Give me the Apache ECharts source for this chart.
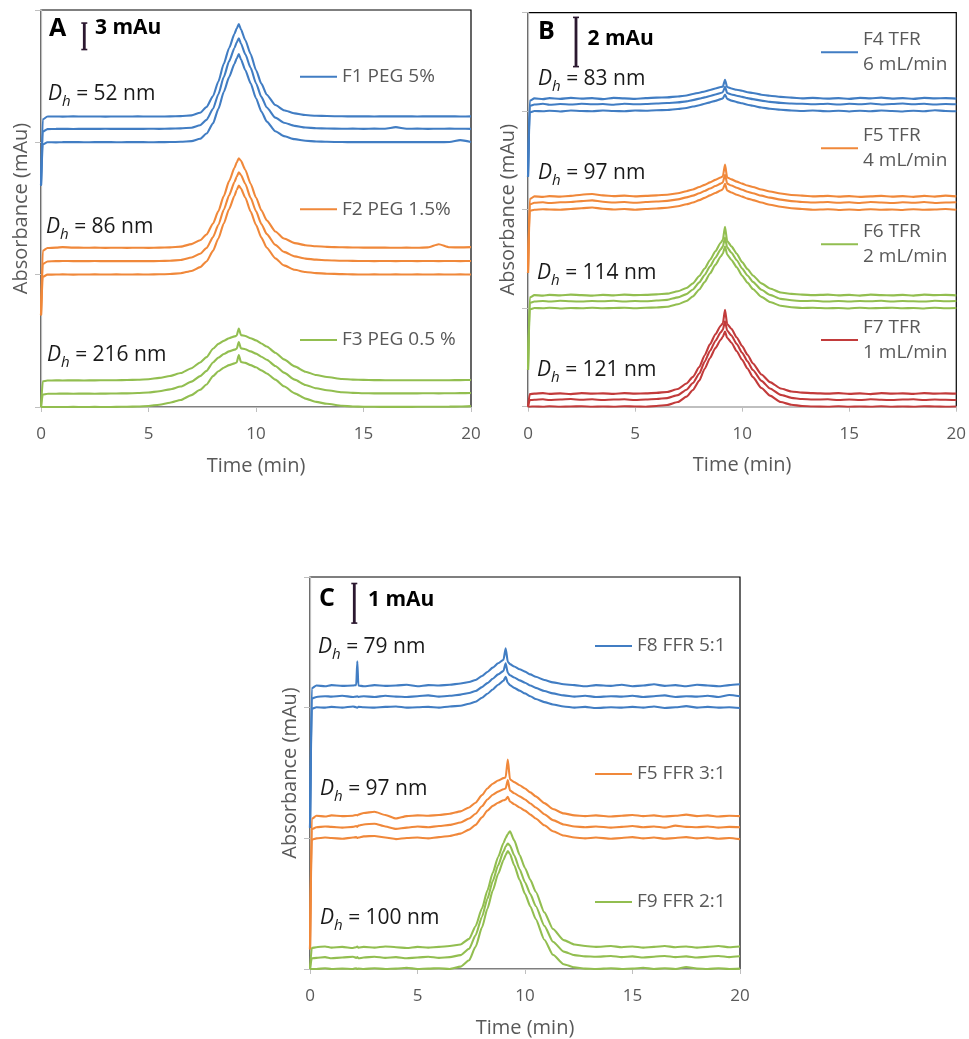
<!DOCTYPE html>
<html><head><meta charset="utf-8">
<script src="https://cdn.jsdelivr.net/npm/echarts@6/dist/echarts.min.js"></script>
<style>html,body{margin:0;padding:0;background:#fff}#c{width:969px;height:1039px}</style>
</head><body><div id="c"></div>
<script>
// ---------- time grids (min) ----------
const timeAB = [0,0.08,0.3,0.7,1,1.5,2,2.5,3,3.5,4,4.5,5,5.5,6,6.5,7,7.4,7.7,8,8.25,8.5,8.75,9,9.1,9.2,9.3,9.5,9.75,10,10.25,10.5,10.9,11.3,11.8,12.3,12.8,13.3,14,14.5,15,15.5,16,16.5,17,17.5,18,18.5,19,19.5,20];
const timeC = [0,0.08,0.3,0.7,1,1.5,2,2.15,2.2,2.25,2.5,3,3.5,4,4.5,5,5.5,6,6.5,7,7.4,7.7,8,8.25,8.5,8.75,9,9.1,9.2,9.3,9.5,9.75,10,10.25,10.5,10.9,11.3,11.8,12.3,12.8,13.3,14,14.5,15,15.5,16,16.5,17,17.5,18,18.5,19,19.5,20];

// ---------- Panel A (mAu above each trace's own baseline; bottom, middle, top replicate) ----------
const F1_base = [30, 31.5, 32.9];
const F1 = [
 [-4.9,-0.25,0.01,0,0.02,0.03,0.01,0.02,0.03,0.01, 0.02,0.03,0.01,0.02,0.03,0.06,0.14,0.4,1.0,2.15, 3.8,5.7,7.4,8.9,9.5,10.0,9.4,8.2,6.7,5.0, 3.5,2.35,1.25,0.7,0.36,0.18,0.1,0.06,0.03,0.02, 0.03,0.02,0.03,0.02,0.03,0.02,0.03,0.02,0.03,0.25,0.04],
 [-6.4,-0.3,0,0.02,0.03,0.01,0.03,0.02,0.04,0.02, 0.03,0.02,0.04,0.03,0.05,0.08,0.16,0.43,1.05,2.3, 3.95,5.9,7.7,9.2,9.8,10.3,9.7,8.5,6.95,5.2, 3.65,2.45,1.3,0.72,0.37,0.18,0.1,0.07,0.04,0.05, 0.03,0.05,0.04,0.22,0.04,0.05,0.03,0.04,0.05,0.04,0.03],
 [-7.8,-0.3,0.02,0.03,0.01,0.04,0.02,0.03,0.01,0.03, 0.02,0.04,0.02,0.03,0.04,0.07,0.16,0.45,1.1,2.35, 4.0,6.0,7.8,9.4,10.0,10.5,9.9,8.7,7.1,5.3, 3.75,2.5,1.33,0.74,0.38,0.19,0.11,0.08,0.05,0.04, 0.05,0.03,0.05,0.04,0.05,0.03,0.05,0.04,0.05,0.03,0.04]
];
const F2_base = [15, 16.5, 18];
const F2 = [
 [-4.6,-0.25,0,0.02,0.03,0.01,0.02,0.03,0.02,0.03, 0.02,0.03,0.02,0.04,0.07,0.16,0.42,0.85,1.5,2.7, 4.1,5.8,7.45,8.95,9.6,10.1,9.75,8.75,7.15,5.65, 4.2,3.05,1.85,1.05,0.55,0.3,0.18,0.11,0.06,0.03, 0.02,0.03,0.02,0.03,0.02,0.03,0.02,0.03,0.02,0.03,0.02],
 [-6.1,-0.3,0,0.03,0.05,0.04,0.03,0.05,0.03,0.04, 0.03,0.04,0.03,0.05,0.08,0.17,0.44,0.87,1.52,2.75, 4.15,5.85,7.5,9.0,9.6,10.1,9.8,8.8,7.2,5.7, 4.25,3.1,1.88,1.08,0.57,0.32,0.2,0.13,0.08,0.06, 0.05,0.04,0.05,0.04,0.05,0.04,0.05,0.04,0.05,0.04,0.05],
 [-7.6,-0.3,0.02,0.06,0.12,0.07,0.05,0.06,0.04,0.05, 0.04,0.05,0.04,0.06,0.09,0.18,0.46,0.9,1.56,2.8, 4.2,5.9,7.6,9.1,9.7,10.2,9.9,8.9,7.3,5.75, 4.3,3.15,1.9,1.1,0.58,0.34,0.22,0.15,0.1,0.08, 0.07,0.06,0.06,0.05,0.06,0.05,0.09,0.45,0.1,0.09,0.12]
];
const F3_base = [0, 1.5, 3];
const F3 = [
 [0,0,0,0,0,0.01,0,0.01,0,0.01, 0.03,0.06,0.12,0.26,0.48,0.8,1.35,1.95,2.55,3.5, 4.05,4.45,4.75,4.95,5.05,5.9,5.1,5.0,4.75,4.5, 4.15,3.8,3.1,2.35,1.55,0.95,0.58,0.36,0.14,0.06, 0.03,0.02,0.01,0.02,0.01,0.02,0.03,0.02,0.04,0.05,0.1],
 [-1.5,-0.1,0,0.01,0.02,0.01,0.02,0.01,0.02,0.03, 0.05,0.08,0.14,0.28,0.5,0.82,1.38,2.0,2.6,3.55, 4.1,4.5,4.8,5.0,5.1,5.85,5.15,5.05,4.8,4.55, 4.2,3.85,3.15,2.4,1.6,1.0,0.62,0.4,0.18,0.1, 0.06,0.05,0.04,0.05,0.04,0.05,0.06,0.05,0.06,0.07,0.08],
 [-3,-0.1,0,0.02,0.01,0.02,0.01,0.02,0.03,0.04, 0.06,0.09,0.15,0.3,0.52,0.85,1.4,2.05,2.65,3.6, 4.15,4.5,4.8,5.0,5.1,5.9,5.15,5.05,4.8,4.55, 4.2,3.85,3.15,2.4,1.6,1.0,0.62,0.4,0.18,0.1, 0.07,0.05,0.04,0.04,0.03,0.04,0.03,0.04,0.04,0.05,0.06]
];

// ---------- Panel B ----------
const F4_base = [12, 12.27, 12.5];
const F4 = [
 [-2.66,-0.05,0.01,0,0.02,-0.01,0.03,0.01,0,0.03, 0.01,0,0.03,0.02,0.04,0.05,0.09,0.13,0.19,0.24, 0.3,0.36,0.42,0.49,0.52,0.68,0.5,0.43,0.37,0.32, 0.26,0.22,0.15,0.1,0.06,0.03,0.01,0.03,0,0.02, -0.01,0.02,0,0.03,0.01,-0.01,0.02,0,0.04,0.01,0],
 [-2.93,-0.06,0,0.03,-0.01,0.02,0,0.03,0.01,0.02, -0.01,0.03,0.01,0.02,0.04,0.06,0.09,0.13,0.18,0.24, 0.29,0.35,0.41,0.47,0.5,0.72,0.47,0.41,0.36,0.31, 0.26,0.22,0.16,0.11,0.07,0.04,0.03,0.01,0.03,0, 0.03,0.01,0.04,0,0.02,0.04,0.01,0.03,0,0.02,0.01],
 [-3.16,-0.08,0.02,-0.01,0.03,0,0.04,0.01,0.03,-0.01, 0.04,0.02,0,0.03,0.05,0.06,0.1,0.14,0.2,0.25, 0.3,0.36,0.42,0.48,0.5,0.78,0.48,0.42,0.37,0.33, 0.27,0.24,0.17,0.13,0.08,0.05,0.02,0.04,0.01,0.03, 0,0.04,0.02,0.05,0.01,0.03,0,0.04,0.02,0.03,0.01]
];
const F5_base = [8, 8.27, 8.51];
const F5 = [
 [-2.57,-0.05,0,0.02,0.01,0,0.03,0.06,0.09,0.04, 0.01,0.03,0,0.03,0.05,0.08,0.14,0.22,0.29,0.39, 0.48,0.58,0.68,0.78,0.83,1.05,0.78,0.7,0.61,0.53, 0.45,0.39,0.29,0.2,0.12,0.06,0.03,0,0.02,-0.01, 0.01,-0.01,0.02,0,0.01,-0.01,0.02,0,0.01,0.03,0],
 [-2.84,-0.06,0.01,0.03,0,0.03,0.04,0.08,0.11,0.05, 0.02,0.04,0.01,0.04,0.06,0.09,0.15,0.23,0.3,0.4, 0.49,0.59,0.69,0.79,0.84,1.15,0.79,0.71,0.62,0.54, 0.46,0.4,0.3,0.22,0.14,0.08,0.04,0.02,0.04,0.01, 0.03,0,0.04,0.02,0,0.03,0.01,0.04,0,0.02,0.03],
 [-3.08,-0.08,0.03,0.01,0.04,0.02,0.05,0.1,0.13,0.07, 0.04,0.06,0.03,0.05,0.07,0.1,0.16,0.24,0.31,0.41, 0.5,0.6,0.7,0.8,0.85,1.32,0.8,0.72,0.63,0.55, 0.47,0.41,0.31,0.23,0.15,0.09,0.06,0.03,0.05,0.02, 0.04,0.01,0.03,0.05,0.02,0.04,0.01,0.05,0.02,0.06,0.03]
];
const F6_base = [4, 4.27, 4.51];
const F6 = [
 [-2.51,-0.05,0.01,0,0.02,-0.01,0.01,0,0.02,0, 0.01,0.02,0,0.02,0.03,0.06,0.16,0.29,0.48,0.76, 1.06,1.41,1.76,2.1,2.22,2.5,2.18,1.96,1.66,1.32, 1.04,0.78,0.46,0.25,0.1,0.04,0.01,0.02,0,0.01, -0.01,0.02,0,0.01,0.02,0,0.01,-0.01,0.02,0,0.01],
 [-2.78,-0.06,0,0.02,0,0.03,0.01,0,0.02,0.01, 0.03,0,0.02,0.01,0.04,0.07,0.17,0.3,0.49,0.78, 1.08,1.43,1.78,2.12,2.24,2.6,2.2,1.98,1.68,1.34, 1.06,0.8,0.48,0.27,0.11,0.05,0.02,0.03,0,0.02, 0,0.02,0.01,0.03,0,0.02,0.01,0,0.03,0.01,0.02],
 [-3.02,-0.08,0.02,0,0.03,0.01,0.04,0.02,0,0.03, 0.01,0.04,0.02,0.03,0.05,0.08,0.18,0.31,0.5,0.8, 1.1,1.45,1.8,2.15,2.27,2.8,2.22,2.0,1.7,1.36, 1.08,0.82,0.5,0.29,0.13,0.07,0.04,0.02,0.04,0.01, 0.03,0,0.04,0.02,0.01,0.03,0,0.04,0.02,0.03,0.01]
];
const F7_base = [0, 0.27, 0.51];
const F7 = [
 [0,0,0.01,0,0.02,0,0.01,0.02,0,0.01, 0,0.02,0.01,0,0.03,0.07,0.19,0.41,0.68,1.06, 1.54,1.98,2.38,2.72,2.84,3.05,2.8,2.6,2.25,1.9, 1.55,1.2,0.76,0.45,0.19,0.08,0.03,0.01,0,0.02, 0,0.01,0,0.02,0,0.01,0,0.02,0.01,0,0.01],
 [-0.27,0,0.01,0.03,0,0.02,0.04,0.01,0.03,0, 0.02,0.03,0,0.02,0.04,0.08,0.2,0.42,0.69,1.08, 1.56,2.0,2.4,2.75,2.86,3.2,2.82,2.62,2.27,1.92, 1.57,1.22,0.78,0.47,0.21,0.09,0.04,0.02,0.03,0, 0.02,0,0.03,0.01,0,0.02,0.03,0,0.02,0.01,0],
 [-0.51,0,0.02,0.04,0.01,0.03,0,0.04,0.02,0.03, 0.01,0.04,0.02,0.03,0.05,0.09,0.21,0.43,0.7,1.1, 1.58,2.03,2.43,2.78,2.88,3.42,2.85,2.65,2.3,1.95, 1.6,1.25,0.8,0.49,0.23,0.11,0.06,0.04,0.02,0.04, 0.01,0.03,0,0.04,0.02,0.03,0.01,0.04,0.02,0.03,0.02]
];

// ---------- Panel C ----------
const F8_base = [6.6, 6.87, 7.14];
const F8 = [
 [-3.03,-0.03,0.01,0,0.02,0,0.03,0.01,0,0.02, 0.01,0,0.02,0.03,0,0.01,0.02,0,0.03,0.05, 0.1,0.15,0.25,0.35,0.46,0.58,0.68,0.78,0.63,0.57, 0.5,0.43,0.36,0.29,0.22,0.14,0.08,0.03,0,0.02, -0.01,0.01,0,0.02,0,0.03,-0.01,0.01,0.04,0, 0.02,0,0.01,-0.01],
 [-3.3,-0.04,0,0.02,0.01,0.03,0,0.01,0.02,0, 0.02,0,0.03,0.01,0,0.02,0.04,0.01,0.03,0.06, 0.1,0.15,0.25,0.35,0.46,0.57,0.66,0.85,0.61,0.55, 0.49,0.42,0.36,0.29,0.23,0.15,0.09,0.04,0.01,0.03, 0,0.02,0.01,0.03,0,0.02,0.04,0,0.02,0.01, 0.03,0,0.05,0.02],
 [-3.57,-0.05,0.02,0,0.03,0.01,0.02,0.03,0.63,0.02, 0,0.03,0.01,0.02,0.04,0,0.03,0.02,0.04,0.07, 0.11,0.16,0.26,0.36,0.47,0.58,0.67,0.96,0.62,0.56, 0.5,0.43,0.37,0.3,0.24,0.16,0.1,0.05,0.03,0, 0.03,0.01,0.04,0,0.02,0.05,0.01,0.03,0,0.04, 0.02,0,0.03,0.05]
];
const F5b_base = [3.3, 3.57, 3.84];
const F5b = [
 [-2.8,-0.03,0,0.02,0.01,-0.01,0.02,0.03,0.01,0.02, 0.05,0.06,0.02,-0.02,0.01,0.02,0,0.03,0.06,0.12, 0.22,0.34,0.53,0.7,0.82,0.9,0.96,0.98,1.05,0.93, 0.86,0.78,0.7,0.6,0.5,0.33,0.18,0.07,0.02,0, 0.02,-0.01,0.01,0.03,0,0.02,-0.01,0.01,0.03,0, 0.02,-0.01,0.01,-0.02],
 [-3.07,-0.04,0.01,0.03,0.02,0,0.02,0.04,0.02,0.05, 0.08,0.1,0.03,-0.03,0,0.03,0.01,0.04,0.07,0.13, 0.23,0.35,0.54,0.71,0.83,0.91,0.97,0.99,1.2,0.94, 0.87,0.79,0.71,0.61,0.51,0.34,0.19,0.08,0.03,0.01, 0.03,0,0.02,0.04,0.01,0.03,0,0.05,0.02,0.01, 0.03,0,0.02,0.01],
 [-3.34,-0.05,0.03,0.01,0.04,0.02,0.03,0.05,0.04,0.06, 0.1,0.13,0.05,-0.04,0.02,0.04,0.03,0.05,0.08,0.14, 0.24,0.36,0.55,0.72,0.84,0.92,0.98,1.0,1.45,0.95, 0.88,0.8,0.72,0.62,0.52,0.35,0.2,0.09,0.04,0.02, 0.04,0.01,0.03,0.05,0.02,0.04,0.01,0.03,0.06,0.02, 0.04,0.01,0.03,0.02]
];
const F9_base = [0, 0.27, 0.53];
const F9 = [
 [0,0,0,0.02,0,0.01,0,0.02,0,0.01, 0,0.02,0,0.01,0.03,0,0.01,0.02,0,0.06, 0.22,0.56,1.05,1.52,1.98,2.4,2.75,2.88,2.98,2.9, 2.62,2.25,1.9,1.58,1.26,0.74,0.36,0.12,0.04,0.01, 0,0.02,0,0.01,0.03,0,0.02,0,0.05,0.01, 0,0.02,0,0.01],
 [-0.27,0,0.01,0.03,0,0.02,0.04,0.01,0.03,0, 0.02,0.04,0.01,0.03,0,0.02,0.04,0.01,0.03,0.08, 0.24,0.58,1.05,1.5,1.95,2.35,2.7,2.82,2.9,2.85, 2.6,2.25,1.92,1.62,1.32,0.82,0.42,0.17,0.08,0.05, 0.04,0.06,0.03,0.05,0.02,0.04,0.06,0.03,0.05,0.02, 0.04,0.06,0.03,0.05],
 [-0.53,0,0.02,0.04,0.01,0.03,0,0.02,0.04,0.01, 0.03,0.01,0.04,0.02,0,0.03,0.01,0.03,0.05,0.09, 0.23,0.55,1.0,1.45,1.9,2.3,2.65,2.78,2.88,2.95, 2.72,2.35,2.02,1.72,1.42,0.9,0.48,0.2,0.09,0.05, 0.03,0.05,0.02,0.04,0.01,0.03,0.05,0.02,0.04,0.01, 0.03,0.05,0.02,0.04]
];

// ---------- labels ----------
const xTicks = [0, 5, 10, 15, 20];
const groups = [
 {panel:0, name:'F1 PEG 5%', color:'#417DC3', data:F1, base:F1_base, dh:'52'},
 {panel:0, name:'F2 PEG 1.5%', color:'#F0883A', data:F2, base:F2_base, dh:'86'},
 {panel:0, name:'F3 PEG 0.5 %', color:'#92BE50', data:F3, base:F3_base, dh:'216'},
 {panel:1, name:'F4 TFR\n6 mL/min', color:'#417DC3', data:F4, base:F4_base, dh:'83'},
 {panel:1, name:'F5 TFR\n4 mL/min', color:'#F0883A', data:F5, base:F5_base, dh:'97'},
 {panel:1, name:'F6 TFR\n2 mL/min', color:'#92BE50', data:F6, base:F6_base, dh:'114'},
 {panel:1, name:'F7 TFR\n1 mL/min', color:'#C23B3B', data:F7, base:F7_base, dh:'121'},
 {panel:2, name:'F8 FFR 5:1', color:'#417DC3', data:F8, base:F8_base, dh:'79'},
 {panel:2, name:'F5 FFR 3:1', color:'#F0883A', data:F5b, base:F5b_base, dh:'97'},
 {panel:2, name:'F9 FFR 2:1', color:'#92BE50', data:F9, base:F9_base, dh:'100'}
];
const panelLetters = ['A', 'B', 'C'];
const scaleBars = [3, 2, 1];          // mAu
const yMax = [45, 16, 9.9];
const yStep = [15, 4, 3.3];
const panelTimes = [timeAB, timeAB, timeC];

// ---------- layout ----------
const FONT = "'Open Sans', 'Liberation Sans', sans-serif";
const gridPos = [
 {left:41, top:10, width:430, height:397},
 {left:528, top:12.7, width:430, height:394},
 {left:310, top:577, width:430, height:393}
];
const legendPos = [
 {left:300, cy:76.7}, {left:300, cy:209.3}, {left:300, cy:340},
 {left:821, cy:52.3}, {left:821, cy:148.3}, {left:821, cy:244.3}, {left:821, cy:340},
 {left:595, cy:646}, {left:595, cy:774}, {left:595, cy:902}
];
const dhPos = [
 [48,94],[46,227],[47,355],
 [538,79],[538,173],[537,273],[537,370],
 [318,647],[320,789],[320,918]
];
const letterPos = [[49,33],[538,36],[319,603]];
const barPos = [[84.3,36.3],[576,42],[354.3,603.3]];
const barTextPos = [[95,33],[587.5,44],[368,605]];

const chart = echarts.init(document.getElementById('c'), null, {renderer:'canvas'});
const axisGray = '#BFBFBF';
const grid = gridPos.map(g => Object.assign({show:true, borderColor:'#000', borderWidth:1.2, backgroundColor:'transparent', containLabel:false}, g));
const xAxis = gridPos.map((g, i) => ({
  type:'value', gridIndex:i, min:xTicks[0], max:xTicks[xTicks.length-1], interval:xTicks[1]-xTicks[0],
  axisLine:{show:true, lineStyle:{color:axisGray, width:1.2}},
  axisTick:{show:true, inside:false, length:5, lineStyle:{color:axisGray}},
  axisLabel:{fontSize:17, color:'#595959', margin:19, fontFamily:FONT},
  splitLine:{show:false},
  name:'Time (min)', nameLocation:'middle', nameGap:49,
  nameTextStyle:{fontSize:20, color:'#595959', fontFamily:FONT}
}));
const yAxis = gridPos.map((g, i) => ({
  type:'value', gridIndex:i, min:0, max:yMax[i], interval:yStep[i],
  axisLine:{show:true, lineStyle:{color:axisGray, width:1.2}},
  axisTick:{show:true, inside:false, length:6, lineStyle:{color:axisGray}},
  axisLabel:{show:false}, splitLine:{show:false},
  name:'Absorbance (mAu)', nameLocation:'middle', nameRotate:90, nameGap:10,
  nameTextStyle:{fontSize:20, color:'#595959', fontFamily:FONT}
}));

const series = [];
groups.forEach(g => {
  const times = panelTimes[g.panel];
  g.data.forEach((tr, k) => {
    series.push({
      type:'line', name:g.name, xAxisIndex:g.panel, yAxisIndex:g.panel,
      showSymbol:false, symbol:'none', silent:true, animation:false,
      smooth:0.2, smoothMonotone:'x',
      lineStyle:{color:g.color, width:2.1}, itemStyle:{color:g.color},
      data: times.map((t, j) => [t, +(tr[j] + g.base[k]).toFixed(3)])
    });
  });
});

const legend = groups.map((g, i) => {
  const two = g.name.indexOf('\n') >= 0;
  const L = two ? 25 : 24;
  return {
    data:[g.name], left:legendPos[i].left, top: legendPos[i].cy - (two ? 1.5 * L : L / 2),
    orient:'vertical', padding:0, itemWidth:37, itemHeight:2, icon:'rect', selectedMode:false,
    textStyle:{fontSize:19, color:'#595959', fontFamily:FONT, lineHeight:L, padding: two ? [L,0,0,0] : 0}
  };
});

chart.setOption({
  backgroundColor:'#fff', animation:false,
  grid, xAxis, yAxis, series, legend
});

// annotations (scale bars sized through each panel's y scale)
const graphic = [];
panelLetters.forEach((letter, i) => {
  graphic.push({type:'text', left:letterPos[i][0], top:letterPos[i][1] - 17,
    style:{text:letter, font:'bold 25px ' + FONT, fill:'#000'}});
  const p0 = chart.convertToPixel({gridIndex:i}, [0, 0]);
  const p1 = chart.convertToPixel({gridIndex:i}, [0, scaleBars[i]]);
  const len = p0[1] - p1[1];
  const bx = barPos[i][0], y1 = barPos[i][1] - len / 2, y2 = barPos[i][1] + len / 2;
  graphic.push({type:'line', shape:{x1:bx, y1:y1, x2:bx, y2:y2}, style:{stroke:'#2B1830', lineWidth:2.8}});
  graphic.push({type:'line', shape:{x1:bx - 3, y1:y1, x2:bx + 3, y2:y1}, style:{stroke:'#2B1830', lineWidth:1.6}});
  graphic.push({type:'line', shape:{x1:bx - 3, y1:y2, x2:bx + 3, y2:y2}, style:{stroke:'#2B1830', lineWidth:1.6}});
  graphic.push({type:'text', left:barTextPos[i][0], top:barTextPos[i][1] - 15,
    style:{text:scaleBars[i] + ' mAu', font:'bold 21px ' + FONT, fill:'#000'}});
});
groups.forEach((g, i) => {
  graphic.push({type:'text', x:dhPos[i][0], y:dhPos[i][1],
    style:{
      text:'{i|D}{s|h}{n| = ' + g.dh + ' nm}', verticalAlign:'middle', align:'left',
      rich:{
        i:{fontStyle:'italic', fontSize:21, fontFamily:FONT, fill:'#1a1a1a', lineHeight:31},
        s:{fontStyle:'italic', fontSize:15, fontFamily:FONT, fill:'#1a1a1a', lineHeight:14, verticalAlign:'bottom'},
        n:{fontSize:21, fontFamily:FONT, fill:'#1a1a1a', lineHeight:31}
      }
    }});
});
chart.setOption({graphic});
</script></body></html>
